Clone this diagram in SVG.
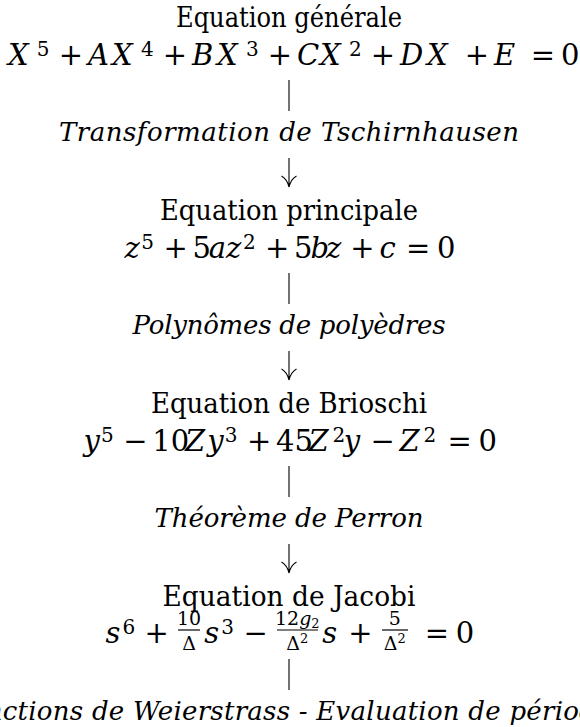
<svg xmlns="http://www.w3.org/2000/svg" width="580" height="727" viewBox="0 0 580 727" font-family="DejaVu Serif, Liberation Serif, serif">
<rect width="580" height="727" fill="#fff"/>

<g id="n1" font-family="DejaVu Serif, Liberation Serif, serif">
<text font-size="27" text-anchor="middle" x="289" y="27" textLength="226" lengthAdjust="spacingAndGlyphs">Equation générale</text>
<text font-size="29"><tspan font-style="italic" x="8" y="65">X</tspan><tspan font-size="20" x="36.7" y="56">5</tspan><tspan x="58.8" y="65">+</tspan><tspan font-style="italic" x="88" y="65">A</tspan><tspan font-style="italic" x="112" y="65">X</tspan><tspan font-size="20" x="141" y="56">4</tspan><tspan x="162.8" y="65">+</tspan><tspan font-style="italic" x="192" y="65">B</tspan><tspan font-style="italic" x="217" y="65">X</tspan><tspan font-size="20" x="246" y="56">3</tspan><tspan x="267.8" y="65">+</tspan><tspan font-style="italic" x="297" y="65">C</tspan><tspan font-style="italic" x="320" y="65">X</tspan><tspan font-size="20" x="349" y="56">2</tspan><tspan x="370.8" y="65">+</tspan><tspan font-style="italic" x="400" y="65">D</tspan><tspan font-style="italic" x="427" y="65">X</tspan><tspan x="464.8" y="65">+</tspan><tspan font-style="italic" x="494" y="65">E</tspan><tspan x="530.8" y="65">=</tspan><tspan x="561" y="65">0</tspan></text>
</g>

<g id="n2" font-family="DejaVu Serif, Liberation Serif, serif">
<text font-size="27" text-anchor="middle" x="289" y="220" textLength="258" lengthAdjust="spacingAndGlyphs">Equation principale</text>
<text font-size="29"><tspan font-style="italic" x="124.5" y="258">z</tspan><tspan font-size="20" x="141.3" y="249">5</tspan><tspan x="163.4" y="258">+</tspan><tspan x="192.5" y="258">5</tspan><tspan font-style="italic" x="208.8" y="258">a</tspan><tspan font-style="italic" x="226.1" y="258">z</tspan><tspan font-size="20" x="242.9" y="249">2</tspan><tspan x="265" y="258">+</tspan><tspan x="294.1" y="258">5</tspan><tspan font-style="italic" x="310.4" y="258">b</tspan><tspan font-style="italic" x="326" y="258">z</tspan><tspan x="350.3" y="258">+</tspan><tspan font-style="italic" x="379.4" y="258">c</tspan><tspan x="406.1" y="258">=</tspan><tspan x="437" y="258">0</tspan></text>
</g>

<g id="n3" font-family="DejaVu Serif, Liberation Serif, serif">
<text font-size="27" text-anchor="middle" x="289" y="413" textLength="276" lengthAdjust="spacingAndGlyphs">Equation de Brioschi</text>
<text font-size="29"><tspan font-style="italic" x="83.5" y="451">y</tspan><tspan font-size="20" x="101.1" y="442">5</tspan><tspan x="123.2" y="451">−</tspan><tspan x="152.3" y="451">10</tspan><tspan font-style="italic" x="185" y="451">Z</tspan><tspan font-style="italic" x="207.2" y="451">y</tspan><tspan font-size="20" x="224.8" y="442">3</tspan><tspan x="246.9" y="451">+</tspan><tspan x="276" y="451">45</tspan><tspan font-style="italic" x="308.6" y="451">Z</tspan><tspan font-size="20" x="332.4" y="442">2</tspan><tspan font-style="italic" x="343.8" y="451">y</tspan><tspan x="370.5" y="451">−</tspan><tspan font-style="italic" x="399.6" y="451">Z</tspan><tspan font-size="20" x="423.5" y="442">2</tspan><tspan x="447.4" y="451">=</tspan><tspan x="478.4" y="451">0</tspan></text>
</g>

<g id="n4" font-family="DejaVu Serif, Liberation Serif, serif">
<text font-size="27" text-anchor="middle" x="289" y="606" textLength="253" lengthAdjust="spacingAndGlyphs">Equation de Jacobi</text>
<text font-size="29"><tspan font-style="italic" x="105.5" y="643">s</tspan><tspan font-size="20" x="122.4" y="634">6</tspan><tspan x="144.5" y="643">+</tspan><tspan font-style="italic" x="204.3" y="643">s</tspan><tspan font-size="20" x="221.2" y="634">3</tspan><tspan x="243.4" y="643">−</tspan><tspan font-style="italic" x="322.2" y="643">s</tspan><tspan x="348.2" y="643">+</tspan><tspan x="424.8" y="643">=</tspan><tspan x="455.8" y="643">0</tspan></text>
<g font-size="19" text-anchor="middle">
<text x="189" y="625">10</text>
<text x="189" y="650">Δ</text>
<text x="297.3" y="625">12<tspan font-style="italic">g</tspan><tspan font-size="13" dy="3">2</tspan></text>
<text x="297.3" y="650">Δ<tspan font-size="13" dy="-7">2</tspan></text>
<text x="394.8" y="625">5</text>
<text x="394.8" y="650">Δ<tspan font-size="13" dy="-7">2</tspan></text>
</g>
<g stroke="#000" stroke-width="1.2">
<line x1="178" y1="630" x2="200" y2="630"/>
<line x1="277" y1="630" x2="318" y2="630"/>
<line x1="382" y1="630" x2="408" y2="630"/>
</g>
</g>

<g id="connectors" stroke="#000" stroke-width="1.1" fill="none">
<line x1="289" y1="80" x2="289" y2="111"/>
<path d="M289,158 V187 M281.5,176 Q287,179 289,187 M296.5,176 Q291,179 289,187"/>
<line x1="289" y1="273" x2="289" y2="304"/>
<path d="M289,351 V380 M281.5,369 Q287,372 289,380 M296.5,369 Q291,372 289,380"/>
<line x1="289" y1="466" x2="289" y2="497"/>
<path d="M289,544 V573 M281.5,562 Q287,565 289,573 M296.5,562 Q291,565 289,573"/>
<line x1="289" y1="659" x2="289" y2="690"/>
</g>

<g id="labels" font-family="DejaVu Serif, Liberation Serif, serif" font-size="26" font-style="italic" text-anchor="middle">
<text x="289" y="141" textLength="460">Transformation de Tschirnhausen</text>
<text x="289" y="334" textLength="313">Polynômes de polyèdres</text>
<text x="289" y="527" textLength="269">Théorème de Perron</text>
<text x="289" y="720" textLength="672">Fonctions de Weierstrass - Evaluation de périodes</text>
</g>
</svg>
